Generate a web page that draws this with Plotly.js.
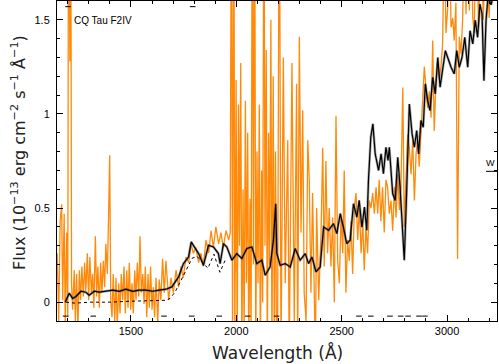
<!DOCTYPE html>
<html>
<head>
<meta charset="utf-8">
<script src="https://cdn.plot.ly/plotly-3.0.1.min.js"></script>
<style>
  html, body { margin: 0; padding: 0; background: #fff; }
  #chart { width: 499px; height: 364px; }
</style>
</head>
<body>
<div id="chart"></div>
<script>
// ── Data ──────────────────────────────────────────────────────────────────

// IUE-like spectrum, orange (noisy)
const orangeWave = [
  1150, 1157, 1164, 1171, 1176, 1183, 1188, 1195, 1200, 1204, 1210, 1214, 1218, 1223, 1231, 1236,
  1242, 1248, 1255, 1261, 1267, 1274, 1280, 1286, 1293, 1299, 1305, 1312, 1318, 1324, 1331, 1337,
  1343, 1350, 1356, 1362, 1369, 1375, 1381, 1388, 1394, 1399, 1404, 1410, 1416, 1423, 1429, 1435,
  1442, 1448, 1454, 1461, 1467, 1473, 1480, 1486, 1492, 1499, 1505, 1511, 1518, 1524, 1530, 1537,
  1543, 1549, 1556, 1562, 1568, 1575, 1581, 1587, 1593, 1600, 1606, 1612, 1619, 1627, 1634, 1642,
  1650, 1658, 1666,
  1679, 1690, 1701, 1714, 1726, 1737, 1748, 1761, 1774, 1785, 1796, 1808, 1821, 1832, 1843, 1856,
  1869, 1880, 1891, 1903, 1916, 1927, 1938, 1951, 1964, 1971,
  1977, 1982, 1988, 1993, 1999, 2004, 2010, 2015, 2021, 2026, 2032, 2037, 2043, 2048, 2054, 2059,
  2065, 2070, 2076, 2081, 2087, 2092, 2098, 2103, 2109, 2114, 2120, 2125, 2131, 2136, 2142, 2147,
  2153, 2158, 2164, 2169, 2175, 2180, 2186, 2191,
  2196, 2204, 2212, 2223, 2232, 2244, 2251, 2264, 2275, 2286, 2291, 2299, 2307, 2315, 2322, 2331,
  2339, 2346, 2354, 2362, 2375, 2381, 2391,
  2402, 2410, 2417, 2425, 2433, 2441, 2449, 2457, 2465, 2473, 2481, 2489, 2497, 2505, 2512, 2520,
  2528, 2536, 2544, 2552, 2560, 2568, 2576, 2584, 2592, 2600, 2607, 2615, 2623, 2631, 2639, 2647,
  2655, 2663, 2671, 2678, 2686, 2694, 2702, 2710,
  2718, 2726, 2734, 2742, 2750, 2758, 2766, 2774, 2781, 2790, 2797, 2805, 2813, 2821, 2829, 2837,
  2845, 2853, 2861, 2868, 2876, 2884, 2892, 2900, 2908, 2916, 2924, 2932, 2939, 2947, 2955, 2963,
  2971, 2979, 2987, 2995, 3003, 3011, 3019, 3027, 3034, 3042, 3050, 3058, 3066, 3074, 3082, 3090,
  3098, 3106, 3114, 3122, 3129, 3137, 3150, 3161, 3172, 3185, 3200, 3213, 3232,
];
const orangeFlux = [
  0.26, -0.10, 0.43, 0.52, 0.01, 0.47, -0.12, 0.37, -0.08, 2.5, 1.28, 2.5, 0.10, -0.04, 0.17, -0.10,
  0.15, -0.15, 0.17, 0.01, 0.19, 0.03, 0.21, 0.06, 0.26, 0.01, 0.24, 0.05, 0.15, -0.03, 0.35, 0.03,
  0.19, -0.03, 0.21, 0.05, 0.22, 0.08, 0.31, 0.15, 0.47, 0.78, 0.01, -0.08, 0.15, -0.10, 0.13, -0.13,
  0.10, -0.06, 0.15, 0.01, 0.19, -0.06, 0.17, -0.03, 0.21, -0.04, 0.10, -0.06, 0.17, 0.01, 0.21, 0.03,
  0.35, 0.05, 0.15, -0.01, 0.19, -0.08, 0.15, -0.03, 0.19, -0.04, 0.08, -0.08, 0.13, -0.11, 0.12, 0.01,
  0.23, 0.05, 0.22,
  0.01, 0.13, 0.05, 0.17, 0.08, 0.19, 0.13, 0.24, 0.21, 0.31, 0.26, 0.29, 0.21, 0.26, 0.19, 0.33,
  0.26, 0.38, 0.29, 0.40, 0.31, 0.37, 0.29, 0.38, 0.33, 0.37,
  2.5, -0.3, 2.5, -0.3, 1.18, -0.3, 1.05, 0.3, 1.27, -0.3, 0.6, -0.2, 1.07, 0.1, 0.9, -0.3,
  0.55, -0.2, 2.5, 0.2, 2.5, -0.3, 0.8, 0.1, 1.05, -0.3, 0.7, 0.0, 2.5, 0.3, 1.34, -0.3,
  0.9, 0.2, 1.5, -0.3, 1.2, -0.2, 0.8, -0.3,
  -0.10, 2.5, -0.3, 1.30, 0.10, 0.86, -0.3, 1.27, -0.10, 1.16, -0.3, 1.41, 0.37, 1.02, 0.05, -0.10,
  0.86, 0.65, 0.05, 0.58, -0.3, 0.50, 0.01,
  0.37, 0.82, 0.19, 0.75, 0.26, 0.50, 0.19, 0.45, 0.00, 0.99, 0.22, 0.10, 0.47, 0.26, 0.70, 0.05,
  0.33, 0.22, 0.43, 0.15, 0.50, 0.58, 0.33, 0.50, 0.26, 0.43, 0.17, 0.40, 0.26, 0.54, 0.50, 0.58,
  0.47, 0.61, 0.47, 0.65, 0.43, 0.61, 0.37, 0.65,
  0.61, 0.47, 0.54, 0.38, 0.61, 0.45, 0.68, 0.49, 0.61, 1.14, 0.40, 0.61, 0.89, 0.82, 0.68, 0.86,
  0.54, 0.79, 0.86, 0.72, 0.93, 1.07, 1.25, 1.14, 1.03, 1.12, 0.98, 1.39, 0.91, 1.16, 1.28, 1.19,
  1.25, 1.37, 2.0, 1.43, 1.56, 2.0, 1.46, 1.51, 1.39, 1.59, 0.23, 1.41, 1.32, 1.50, 2.0, 1.53,
  2.0, 1.55, 2.0, 1.51, 1.43, 2.0, 1.46, 2.0, 1.50, 2.0, 1.51, 2.0, 2.0,
];

// Model / comparison spectrum, black
const blackWave = [
  1188, 1207, 1223, 1239, 1263, 1286, 1302, 1326, 1350, 1381, 1413, 1445, 1476, 1508, 1539, 1571,
  1603, 1634, 1666, 1694, 1726, 1749, 1773, 1786, 1805, 1821, 1844, 1868, 1892, 1915, 1923, 1939,
  1955, 1979, 2002, 2026, 2050, 2074, 2097, 2121, 2137, 2160, 2176, 2187, 2192, 2208, 2232, 2256,
  2279, 2303, 2327, 2343, 2359, 2378, 2398, 2414, 2438, 2461, 2477, 2493, 2508, 2524, 2540, 2556,
  2572, 2583, 2596, 2608, 2619, 2627, 2638, 2648, 2659, 2675, 2687, 2698, 2710, 2720, 2726, 2742,
  2754, 2766, 2777, 2789, 2797, 2808, 2821, 2834, 2845, 2856, 2865, 2876, 2887, 2897, 2908, 2919,
  2932, 2944, 2956, 2967, 2979, 2992, 3003, 3019, 3034, 3046, 3058, 3071, 3084, 3098, 3109, 3122,
  3134, 3145, 3156, 3166, 3175, 3185, 3194, 3209, 3223, 3237,
];
const blackFlux = [
  0.00, 0.048, 0.02, 0.03, 0.058, 0.053, 0.037, 0.058, 0.053, 0.058, 0.064, 0.058, 0.069, 0.058, 0.064, 0.064,
  0.058, 0.064, 0.069, 0.081, 0.134, 0.205, 0.24, 0.32, 0.286, 0.258, 0.196, 0.302, 0.293, 0.258, 0.205, 0.311,
  0.293, 0.223, 0.258, 0.232, 0.285, 0.293, 0.205, 0.223, 0.143, 0.187, 0.329, 0.523, 0.26, 0.196, 0.205, 0.187,
  0.285, 0.223, 0.258, 0.205, 0.24, 0.161, 0.187, 0.399, 0.382, 0.417, 0.364, 0.47, 0.399, 0.311, 0.329, 0.523,
  0.452, 0.541, 0.399, 0.505, 0.382, 0.647, 0.876, 0.947, 0.788, 0.70, 0.788, 0.682, 0.823, 0.753, 0.823, 0.576,
  0.541, 0.77, 0.611, 0.329, 0.223, 0.576, 1.053, 0.894, 0.823, 0.912, 0.788, 0.965, 0.929, 1.16, 1.071, 1.018,
  1.195, 1.107, 1.30, 1.142, 1.248, 1.336, 1.30, 1.248, 1.213, 1.336, 1.248, 1.30, 1.407, 1.248, 1.442, 1.372,
  1.497, 1.407, 1.584, 1.531, 1.177, 1.497, 1.62, 1.58, 1.65, 1.62,
];

// Second spectrum, dotted
const dotWave = [1192, 1234, 1305, 1400, 1495, 1590, 1666, 1685, 1709, 1733, 1761, 1790, 1813, 1837, 1865, 1894, 1922, 1951];
const dotFlux = [0.0, -0.005, 0.0, 0.0, 0.005, 0.008, 0.01, 0.02, 0.053, 0.106, 0.17, 0.233, 0.244, 0.212, 0.18, 0.255, 0.159, 0.233];

// Small flag marks along the bottom and top
const flagWave = [1190, 1321, 1657, 1788, 1919, 2054, 2191, 2582, 2638, 2729, 2780, 2815, 2867, 2895];
const flagFlux = [-0.074, -0.074, -0.074, -0.074, -0.074, -0.074, -0.074, -0.074, -0.074, -0.074, -0.074, -0.074, -0.074, -0.074];
const topFlagWave = [1201, 1793];
const topFlagFlux = [1.57, 1.57];

const starLabel = 'CQ Tau F2IV';

// ── Traces ────────────────────────────────────────────────────────────────

const traces = [
  {
    x: orangeWave, y: orangeFlux,
    type: 'scatter', mode: 'lines',
    line: { color: '#ff8a0a', width: 1.3 },
    name: 'IUE',
  },
  {
    x: dotWave, y: dotFlux,
    type: 'scatter', mode: 'lines',
    line: { color: '#000', width: 1, dash: 'dot' },
    name: 'dotted',
  },
  {
    x: blackWave, y: blackFlux,
    type: 'scatter', mode: 'lines',
    line: { color: 'rgba(70,70,70,0.45)', width: 2.6 },
    name: 'fuzz', hoverinfo: 'skip',
  },
  {
    x: blackWave, y: blackFlux,
    type: 'scatter', mode: 'lines',
    line: { color: '#000', width: 1.2 },
    name: 'model',
  },
  {
    x: flagWave.concat(topFlagWave), y: flagFlux.concat(topFlagFlux),
    type: 'scatter', mode: 'markers',
    marker: { symbol: 'line-ew', size: 4, color: '#000', line: { color: '#000', width: 1 } },
    name: 'flags',
  },
];

// ── Layout ────────────────────────────────────────────────────────────────

const AXIS_COMMON = {
  showgrid: false, zeroline: false,
  showline: true, linecolor: '#000', linewidth: 1, mirror: 'allticks',
  ticks: 'inside', ticklen: 6, tickcolor: '#000', tickwidth: 1,
  tickfont: { family: 'Liberation Sans, Arial, sans-serif', size: 11, color: '#000' },
};

const layout = {
  width: 499, height: 364,
  margin: { l: 57, r: 2, t: 1, b: 43 },
  paper_bgcolor: '#fff', plot_bgcolor: '#fff',
  showlegend: false,
  xaxis: {
    ...AXIS_COMMON,
    range: [1149, 3237],
    tickvals: [1500, 2000, 2500, 3000],
    minor: { ticks: 'inside', ticklen: 3, tickcolor: '#000', dtick: 100 },
  },
  yaxis: {
    ...AXIS_COMMON,
    range: [-0.1, 1.6],
    tickvals: [0, 0.5, 1, 1.5], ticktext: ['0', '0.5', '1', '1.5'],
    ticklabelstandoff: 4,
    minor: { ticks: 'inside', ticklen: 3, tickcolor: '#000', dtick: 0.1 },
  },
  annotations: [
    {
      text: starLabel, xref: 'paper', yref: 'paper',
      x: 0.034, y: 0.94, xanchor: 'left', yanchor: 'middle', showarrow: false,
      font: { family: 'Liberation Sans, Arial, sans-serif', size: 10, color: '#000' },
    },
    {
      text: 'Wavelength (Å)', xref: 'paper', yref: 'paper',
      x: 0.5, y: -0.097, xanchor: 'center', yanchor: 'middle', showarrow: false,
      font: { family: 'DejaVu Sans, sans-serif', size: 17, color: '#222' },
    },
    {
      text: 'Flux (10<sup>−13</sup> erg cm<sup>−2</sup> s<sup>−1</sup> Å<sup>−1</sup>)',
      xref: 'paper', yref: 'paper', textangle: -90,
      x: -0.089, y: 0.528, xanchor: 'center', yanchor: 'middle', showarrow: false,
      font: { family: 'DejaVu Sans, sans-serif', size: 16, color: '#222' },
    },
    {
      text: 'W', xref: 'paper', yref: 'y',
      x: 0.985, y: 0.74, xanchor: 'center', yanchor: 'middle', showarrow: false,
      font: { family: 'Liberation Sans, Arial, sans-serif', size: 9, color: '#000' },
    },
  ],
  shapes: [
    { type: 'line', xref: 'paper', yref: 'y', x0: 0.975, x1: 1.0, y0: 0.695, y1: 0.695, line: { color: '#000', width: 1 } },
  ],
};

Plotly.newPlot('chart', traces, layout, { staticPlot: true, displayModeBar: false });
</script>
</body>
</html>
